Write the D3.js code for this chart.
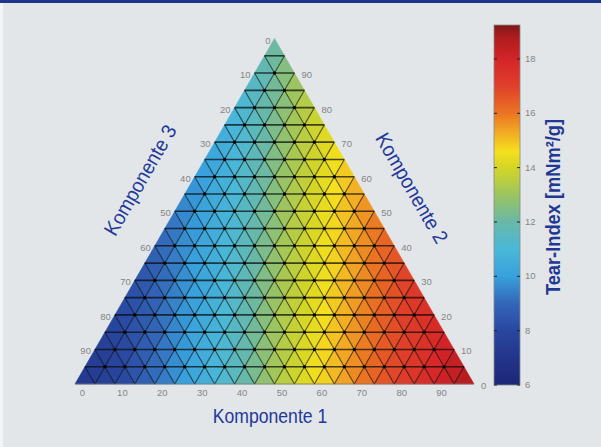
<!DOCTYPE html>
<html>
<head>
<meta charset="utf-8">
<script src="https://cdn.jsdelivr.net/npm/d3@7"></script>
<style>
body { margin: 0; background: #e2e6e9; }
svg { display: block; font-family: "Liberation Sans", Arial, sans-serif; }
</style>
</head>
<body>
<svg id="chart"></svg>
<script>
const width = 601, height = 447;

// Tear-Index at each grid node. One row per 5 % step of Komponente 2 (first row = 0 %),
// inside a row Komponente 1 = 0, 5, 10, ... from the left edge.
const tearRows = [
  [7.2, 7.4, 7.8, 8.4, 9.1, 9.7, 10.3, 10.9, 11.6, 12.4, 13.2, 13.9, 14.5, 15.1, 15.7, 16.3, 16.9, 17.4, 17.9, 18.4, 18.8],
  [7.3, 7.6, 8.1, 8.8, 9.4, 10.0, 10.6, 11.2, 11.9, 12.7, 13.5, 14.2, 14.8, 15.4, 16.0, 16.6, 17.1, 17.6, 18.1, 18.6],
  [7.5, 7.8, 8.4, 9.0, 9.6, 10.2, 10.8, 11.5, 12.3, 13.1, 13.8, 14.4, 15.0, 15.6, 16.2, 16.8, 17.3, 17.8, 18.3],
  [7.7, 8.1, 8.7, 9.3, 9.9, 10.5, 11.1, 11.8, 12.6, 13.4, 14.1, 14.7, 15.3, 15.9, 16.5, 17.0, 17.5, 18.0],
  [7.9, 8.4, 8.9, 9.5, 10.1, 10.7, 11.4, 12.2, 13.0, 13.7, 14.3, 14.9, 15.5, 16.1, 16.7, 17.3, 17.8],
  [8.1, 8.6, 9.2, 9.8, 10.4, 11.0, 11.7, 12.5, 13.3, 14.0, 14.6, 15.2, 15.8, 16.4, 17.0, 17.5],
  [8.3, 8.8, 9.4, 10.0, 10.6, 11.3, 12.1, 12.9, 13.6, 14.2, 14.8, 15.4, 16.0, 16.6, 17.2],
  [8.5, 9.1, 9.7, 10.3, 10.9, 11.6, 12.4, 13.2, 13.9, 14.5, 15.1, 15.7, 16.3, 16.9],
  [8.8, 9.4, 10.0, 10.6, 11.2, 12.0, 12.8, 13.5, 14.2, 14.8, 15.4, 16.0, 16.6],
  [9.0, 9.6, 10.2, 10.8, 11.5, 12.3, 13.1, 13.8, 14.4, 15.0, 15.6, 16.2],
  [9.3, 9.9, 10.5, 11.1, 11.8, 12.6, 13.4, 14.1, 14.7, 15.3, 15.9],
  [9.5, 10.1, 10.7, 11.4, 12.2, 13.0, 13.7, 14.3, 14.9, 15.5],
  [9.8, 10.4, 11.0, 11.7, 12.5, 13.3, 14.0, 14.6, 15.2],
  [10.0, 10.6, 11.3, 12.1, 12.9, 13.6, 14.2, 14.8],
  [10.3, 10.9, 11.6, 12.4, 13.2, 13.9, 14.5],
  [10.6, 11.2, 12.0, 12.8, 13.5, 14.2],
  [10.8, 11.5, 12.3, 13.1, 13.8],
  [11.1, 11.8, 12.6, 13.4],
  [11.4, 12.2, 13.0],
  [11.7, 12.5],
  [12.1]
];

const axisTicks = [0, 10, 20, 30, 40, 50, 60, 70, 80, 90];
const colorTicks = [6, 8, 10, 12, 14, 16, 18];
const colorDomain = [6, 19.25];
const stopValues = [6, 7, 8, 9, 10, 11, 12, 13, 14, 14.6, 15.3, 16, 17, 18, 18.8, 19.25];
const stopColors = ["#1b2778", "#22358a", "#2947a0", "#3366b8", "#38a0dc", "#4ab8d8", "#68b8a8", "#9cc460",
                    "#d4d626", "#f4e01e", "#f2aa24", "#ea7422", "#e0402a", "#d42428", "#ae1c1e", "#7e1818"];

const color = d3.scaleLinear().domain(stopValues).range(stopColors).clamp(true);

const svg = d3.select("#chart").attr("width", width).attr("height", height);

svg.append("rect").attr("width", width).attr("height", height).attr("fill", "#e2e6e9");
svg.append("rect").attr("width", 3).attr("height", height).attr("fill", "#f2f4f5");
svg.append("rect").attr("width", width).attr("height", 3).attr("fill", "#1f348a");

// ternary geometry: horizontal position = c1 + c2/2, vertical = c2
const x = d3.scaleLinear().domain([0, 100]).range([75, 474]);
const y = d3.scaleLinear().domain([0, 100]).range([384, 38.5]);
const pt = (c1, c2) => [x(c1 + c2 / 2), y(c2)];

const step = 5, n = tearRows.length - 1;
const cells = [];
for (let i = 0; i < n; i++) {
    for (let j = 0; j < n - i; j++) {
        cells.push({
            pts: [pt(j * step, i * step), pt((j + 1) * step, i * step), pt(j * step, (i + 1) * step)],
            value: d3.mean([tearRows[i][j], tearRows[i][j + 1], tearRows[i + 1][j]])
        });
        if (j < n - i - 1) {
            cells.push({
                pts: [pt((j + 1) * step, i * step), pt((j + 1) * step, (i + 1) * step), pt(j * step, (i + 1) * step)],
                value: d3.mean([tearRows[i][j + 1], tearRows[i + 1][j + 1], tearRows[i + 1][j]])
            });
        }
    }
}

const line = d3.line();
const plot = svg.append("g");

plot.selectAll(".cell")
    .data(cells)
    .enter().append("path")
    .attr("class", "cell")
    .attr("d", d => line(d.pts) + "Z")
    .attr("fill", d => color(d.value))
    .attr("stroke", d => color(d.value))
    .attr("stroke-width", 0.6);

// grid lines
const levels = d3.range(step, 100, step);
const grid = plot.append("g").attr("fill", "none").attr("stroke", "#0a0a0a");
grid.selectAll(".c1")
    .data(levels)
    .enter().append("path")
    .attr("d", v => line([pt(v, 0), pt(v, 100 - v)]))
    .attr("stroke-width", 1.1)
    .attr("stroke-opacity", 0.62);
grid.selectAll(".c3")
    .data(levels)
    .enter().append("path")
    .attr("d", v => line([pt(100 - v, 0), pt(0, 100 - v)]))
    .attr("stroke-width", 1.1)
    .attr("stroke-opacity", 0.62);
grid.selectAll(".h")
    .data(levels)
    .enter().append("path")
    .attr("d", v => line([pt(0, v), pt(100 - v, v)]))
    .attr("stroke-width", 1.6)
    .attr("stroke-opacity", 0.72);

plot.append("path")
    .attr("d", line([pt(0, 0), pt(100, 0)]))
    .attr("stroke", "#777").attr("stroke-width", 0.8).attr("fill", "none");

// measurement points
const nodes = [];
tearRows.forEach((row, i) => row.forEach((v, j) => {
    if (i > 0 && j > 0 && j < row.length - 1) nodes.push(pt(j * step, i * step));
}));
plot.selectAll(".node")
    .data(nodes)
    .enter().append("circle")
    .attr("cx", d => d[0]).attr("cy", d => d[1])
    .attr("r", 1.7).attr("fill", "#000");

// axis tick labels
const tickStyle = sel => sel.attr("font-size", 9.5).attr("fill", "#858585");
svg.append("g").call(tickStyle).selectAll("text")
    .data(axisTicks).enter().append("text")
    .attr("x", v => x(v) + 7.5).attr("y", 395.5)
    .attr("text-anchor", "middle").text(String);
svg.append("g").call(tickStyle).selectAll("text")
    .data(axisTicks).enter().append("text")
    .attr("x", v => pt(0, 100 - v)[0] - 4).attr("y", v => pt(0, 100 - v)[1] + 5)
    .attr("text-anchor", "end").text(String);
svg.append("g").call(tickStyle).selectAll("text")
    .data(axisTicks).enter().append("text")
    .attr("x", v => pt(100 - v, v)[0] + 7).attr("y", v => pt(100 - v, v)[1] + 5)
    .attr("text-anchor", "start").text(String);

// axis titles (condensed look via horizontal scaling)
const titleStyle = sel => sel.attr("font-size", 20.5).attr("fill", "#23399a")
    .attr("text-anchor", "middle").attr("dominant-baseline", "central");
svg.append("text").call(titleStyle).attr("transform", "translate(270,416) scale(0.86,1)").text("Komponente 1");
svg.append("text").call(titleStyle).attr("transform", "translate(140,180) rotate(-60) scale(0.93,1)").text("Komponente 3");
svg.append("text").call(titleStyle).attr("transform", "translate(412,188) rotate(60) scale(0.93,1)").text("Komponente 2");

// colour bar
const cb = {x: 494, w: 26};
const cy = d3.scaleLinear().domain(colorDomain).range([385, 25]);
const grad = svg.append("defs").append("linearGradient")
    .attr("id", "cbar").attr("x1", 0).attr("x2", 0).attr("y1", 1).attr("y2", 0);
grad.selectAll("stop")
    .data(stopValues).enter().append("stop")
    .attr("offset", v => (v - colorDomain[0]) / (colorDomain[1] - colorDomain[0]))
    .attr("stop-color", color);
svg.append("rect")
    .attr("x", cb.x).attr("y", cy(colorDomain[1]))
    .attr("width", cb.w).attr("height", cy(colorDomain[0]) - cy(colorDomain[1]))
    .attr("fill", "url(#cbar)").attr("stroke", "#8a8a8a").attr("stroke-width", 0.8);

const cbTicks = svg.append("g");
cbTicks.selectAll(".tl")
    .data(colorTicks).enter().append("path")
    .attr("d", v => `M${cb.x},${cy(v)}h3M${cb.x + cb.w},${cy(v)}h-3`)
    .attr("stroke", "#222").attr("stroke-width", 1);
cbTicks.selectAll("text")
    .data(colorTicks).enter().append("text")
    .call(tickStyle)
    .attr("x", cb.x + cb.w + 5).attr("y", v => cy(v) + 3)
    .text(String);

svg.append("text")
    .attr("transform", "translate(553,207) rotate(-90) scale(0.87,1)")
    .attr("text-anchor", "middle").attr("dominant-baseline", "central")
    .attr("font-size", 21).attr("font-weight", "bold").attr("fill", "#1f3893")
    .text("Tear-Index [mNm²/g]");
</script>
</body>
</html>
